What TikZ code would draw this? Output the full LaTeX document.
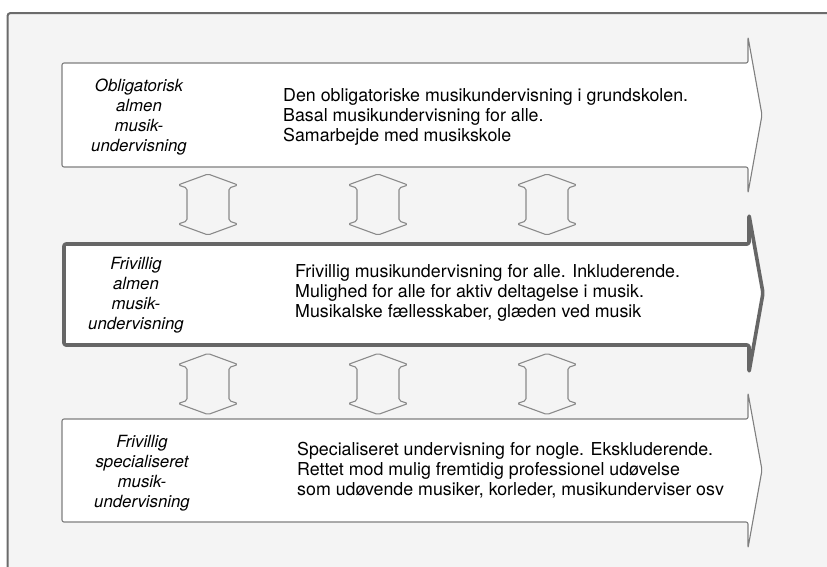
\documentclass[tikz,border=0pt]{standalone}
\usepackage{fontspec}
\setmainfont{TeX Gyre Heros}
\definecolor{panelbg}{HTML}{F4F4F4}
\definecolor{framegray}{HTML}{6B6B6B}
\definecolor{lanegray}{HTML}{7F7F7F}
\definecolor{boldgray}{HTML}{666666}
\definecolor{linkgray}{HTML}{8A8A8A}
\tikzset{
  lane/.style={draw=lanegray, line width=1.1pt, fill=white, rounded corners=2pt, line join=round},
  mainlane/.style={lane, draw=boldgray, line width=3.6pt},
  lanelabel/.style={align=center, font=\fontsize{16.8}{20}\selectfont\itshape, inner sep=0pt},
  lanetext/.style={align=left, anchor=west, font=\fontsize{17.8}{20}\selectfont, inner sep=0pt},
  link/.style={draw=linkgray, line width=1.1pt, fill=panelbg, rounded corners=1.8pt, line join=round}
}
\begin{document}
\begin{tikzpicture}[x=1pt, y=-1pt]
  \useasboundingbox (0,0) rectangle (827,566);
  \draw[framegray, line width=2pt, fill=panelbg, rounded corners=3pt]
    (7.5,13) rectangle (860,600);
  \begin{scope}
    \draw[lane] (62,63) -- (748,63) -- (748,37) -- (762,115) -- (748,193)
      -- (748,167) -- (62,167) -- cycle;
    \draw[mainlane] (64,244) -- (749,244) -- (749,215) -- (763,293) -- (749,372)
      -- (749,345) -- (64,345) -- cycle;
    \draw[lane] (62,419) -- (748,419) -- (748,393) -- (762,470) -- (748,548)
      -- (748,522) -- (62,522) -- cycle;
  \end{scope}
  \foreach \m in {204.5,384}
    \foreach \c in {208,378,547}
      \draw[link] (\c,\m-30.5) -- (\c+30,\m-19.5) -- (\c+21,\m-16.5) -- (\c+21,\m+16.5)
        -- (\c+30,\m+19.5) -- (\c,\m+30.5) -- (\c-30,\m+19.5) -- (\c-21,\m+16.5)
        -- (\c-21,\m-16.5) -- (\c-30,\m-19.5) -- cycle;
  \node[lanelabel] (lbl1) at (139,117) {Obligatorisk\\almen\\musik-\\undervisning};
  \node[lanetext] (txt1) at (283,117) {Den obligatoriske musikundervisning i grundskolen.\\Basal musikundervisning for alle.\\Samarbejde med musikskole};
  \node[lanelabel] (lbl2) at (136,295) {Frivillig\\almen\\musik-\\undervisning};
  \node[lanetext] (txt2) at (295,293) {Frivillig musikundervisning for alle. Inkluderende.\\Mulighed for alle for aktiv deltagelse i musik.\\Musikalske fællesskaber, glæden ved musik};
  \node[lanelabel] (lbl3) at (142,473) {Frivillig\\specialiseret\\musik-\\undervisning};
  \node[lanetext] (txt3) at (297,470) {Specialiseret undervisning for nogle. Ekskluderende.\\Rettet mod mulig fremtidig professionel udøvelse\\som udøvende musiker, korleder, musikunderviser osv};
\end{tikzpicture}
\end{document}
